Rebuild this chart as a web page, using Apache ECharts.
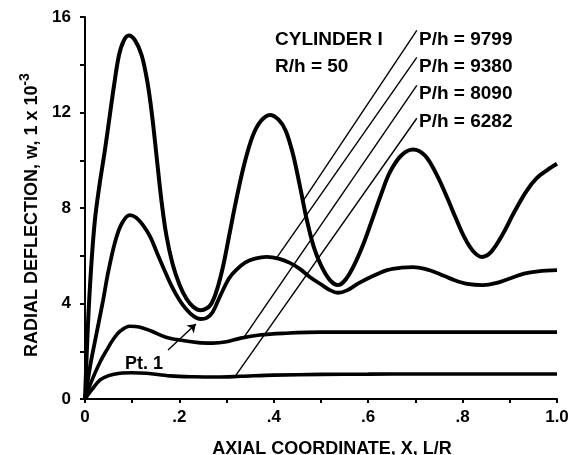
<!DOCTYPE html>
<html><head><meta charset="utf-8">
<script src="https://cdn.jsdelivr.net/npm/echarts@6/dist/echarts.min.js"></script>
<style>html,body{margin:0;padding:0;background:#fff}#c{width:572px;height:455px}</style>
</head><body><div id="c"></div>
<script>
const FONT = '"Liberation Sans", Arial, sans-serif';

const curveNames = ['P/h = 9799', 'P/h = 9380', 'P/h = 8090', 'P/h = 6282'];

const xA = [0,0.006,0.013,0.021,0.031,0.042,0.052,0.062,0.072,0.082,0.093,0.106,0.12,0.132,0.142,0.152,0.162,0.172,0.185,0.2,0.215,0.23,0.245,0.258,0.268,0.28,0.293,0.306,0.32,0.337,0.355,0.373,0.392,0.41,0.425,0.44,0.455,0.47,0.485,0.5,0.518,0.536,0.552,0.57,0.59,0.61,0.627,0.646,0.67,0.695,0.72,0.745,0.767,0.785,0.803,0.822,0.841,0.86,0.885,0.91,0.935,0.957,0.98,1.0];
const yA = [0,3.0,5.5,7.5,9.0,10.4,11.8,13.2,14.4,15.0,15.22,15.02,14.4,13.3,11.9,10.1,8.3,6.9,5.7,4.8,4.2,3.85,3.72,3.8,4.0,4.6,5.6,6.9,8.3,9.8,11.0,11.65,11.9,11.7,11.25,10.3,8.95,7.5,6.35,5.6,5.0,4.77,5.0,5.6,6.5,7.6,8.55,9.5,10.2,10.45,10.2,9.4,8.45,7.6,6.8,6.2,5.95,6.15,6.9,7.85,8.7,9.25,9.6,9.85];

const xB = [0,0.012,0.025,0.038,0.049,0.064,0.078,0.095,0.108,0.122,0.138,0.152,0.166,0.183,0.2,0.215,0.23,0.245,0.258,0.27,0.286,0.305,0.32,0.34,0.36,0.385,0.41,0.434,0.455,0.477,0.5,0.52,0.536,0.555,0.58,0.61,0.64,0.67,0.695,0.72,0.75,0.78,0.81,0.843,0.87,0.9,0.93,0.96,1.0];
const yB = [0,1.5,2.8,4.1,5.3,6.6,7.35,7.7,7.6,7.3,6.8,6.15,5.5,4.75,4.15,3.75,3.47,3.35,3.4,3.62,4.3,5.05,5.4,5.72,5.88,5.95,5.88,5.7,5.45,5.1,4.8,4.55,4.45,4.55,4.85,5.15,5.4,5.5,5.52,5.45,5.25,5.0,4.82,4.77,4.85,5.05,5.25,5.35,5.4];

const xC = [0,0.015,0.032,0.046,0.06,0.075,0.095,0.115,0.14,0.17,0.2,0.24,0.27,0.3,0.33,0.37,0.42,0.5,0.6,0.7,0.8,0.9,1.0];
const yC = [0,0.8,1.55,2.05,2.5,2.85,3.05,3.02,2.85,2.6,2.47,2.36,2.34,2.4,2.55,2.68,2.75,2.8,2.8,2.8,2.8,2.8,2.8];

const xD = [0,0.015,0.032,0.05,0.074,0.1,0.13,0.18,0.23,0.28,0.33,0.4,0.5,0.6,0.7,0.8,0.9,1.0];
const yD = [0,0.4,0.8,0.98,1.08,1.1,1.08,0.97,0.93,0.92,0.95,1.0,1.03,1.04,1.05,1.05,1.05,1.05];

// leader lines (data coordinates): from label to curve
const leaderFrom = [[0.703,15.44],[0.703,14.31],[0.703,13.14],[0.703,11.76]];
const leaderTo   = [[0.462,8.3],[0.407,5.94],[0.337,2.59],[0.318,0.95]];
const ptFrom = [0.176,2.05];
const ptTo = [0.235,3.14];

const yTickLabels = {0:'0',4:'4',8:'8',12:'12',16:'16'};
const xTickLabels = {0:'0',2:'.2',4:'.4',6:'.6',8:'.8',10:'1.0'};

const pairs = (xs, ys) => xs.map((x, i) => [x, ys[i]]);
const curves = [pairs(xA, yA), pairs(xB, yB), pairs(xC, yC), pairs(xD, yD)];
const widths = [4, 3.8, 3.6, 3.6];

const chart = echarts.init(document.getElementById('c'), null, {renderer: 'canvas'});

const series = curves.map((d, i) => ({
  name: curveNames[i], type: 'line', data: d, smooth: 0.35, showSymbol: false,
  lineStyle: {color: '#000', width: widths[i]}, z: 3
}));
series.push({
  type: 'line', data: [], silent: true,
  markLine: {
    silent: true, symbol: ['none', 'none'], animation: false,
    lineStyle: {color: '#000', width: 1.4, type: 'solid'}, label: {show: false},
    data: leaderFrom.map((p, i) => [{coord: p}, {coord: leaderTo[i]}])
  }
});
series.push({
  type: 'line', data: [], silent: true,
  markLine: {
    silent: true, symbol: ['none', 'arrow'], symbolSize: 8, animation: false,
    lineStyle: {color: '#000', width: 1.4, type: 'solid'}, label: {show: false},
    data: [[{coord: ptFrom}, {coord: ptTo}]]
  }
});

const txt = (text, x, y, align, size) => ({
  type: 'text', left: x, top: y,
  style: {text, fill: '#000', font: 'bold ' + (size || 19) + 'px ' + FONT, textAlign: align || 'left', textVerticalAlign: 'middle'}
});

chart.setOption({
  animation: false,
  backgroundColor: '#fff',
  grid: {left: 85, right: 15, top: 17, bottom: 56, containLabel: false, outerBoundsMode: 'none'},
  xAxis: {
    type: 'value', min: 0, max: 1, interval: 0.1,
    axisLine: {show: true, lineStyle: {color: '#000', width: 2}},
    axisTick: {show: true, inside: false, length: 4, lineStyle: {color: '#000', width: 2}},
    splitLine: {show: false},
    axisLabel: {
      color: '#000', fontFamily: FONT, fontWeight: 'bold', fontSize: 17, margin: 10,
      formatter: v => { const k = Math.round(v * 10); return xTickLabels[k] !== undefined ? xTickLabels[k] : ''; }
    },
    name: 'AXIAL COORDINATE, X, L/R', nameLocation: 'middle', nameGap: 41,
    nameTextStyle: {color: '#000', fontFamily: FONT, fontWeight: 'bold', fontSize: 18, padding: [0, 0, 0, 22]}
  },
  yAxis: {
    type: 'value', min: 0, max: 16, interval: 2,
    axisLine: {show: true, lineStyle: {color: '#000', width: 2}},
    axisTick: {show: true, inside: false, length: 5, lineStyle: {color: '#000', width: 2}},
    splitLine: {show: false},
    axisLabel: {
      color: '#000', fontFamily: FONT, fontWeight: 'bold', fontSize: 17, margin: 14,
      formatter: v => { const k = Math.round(v); return yTickLabels[k] !== undefined ? yTickLabels[k] : ''; }
    },
    name: 'RADIAL DEFLECTION, w, 1 x 10{sup|-3}', nameLocation: 'middle', nameGap: 35, nameRotate: 90,
    nameTextStyle: {
      color: '#000', fontFamily: FONT, fontWeight: 'bold', fontSize: 18, padding: [0, 14, 0, 0],
      rich: {sup: {fontFamily: FONT, fontWeight: 'bold', fontSize: 14, color: '#000', padding: [0, 0, 14, 0]}}
    }
  },
  series,
  graphic: [
    txt('CYLINDER I', 275, 30, 'center'),
    txt('R/h = 50', 275, 57, 'center'),
    txt(curveNames[0], 419, 30),
    txt(curveNames[1], 419, 57),
    txt(curveNames[2], 419, 84),
    txt(curveNames[3], 419, 112),
    txt('Pt. 1', 125, 355, 'left', 18)
  ]
});
</script>
</body></html>
